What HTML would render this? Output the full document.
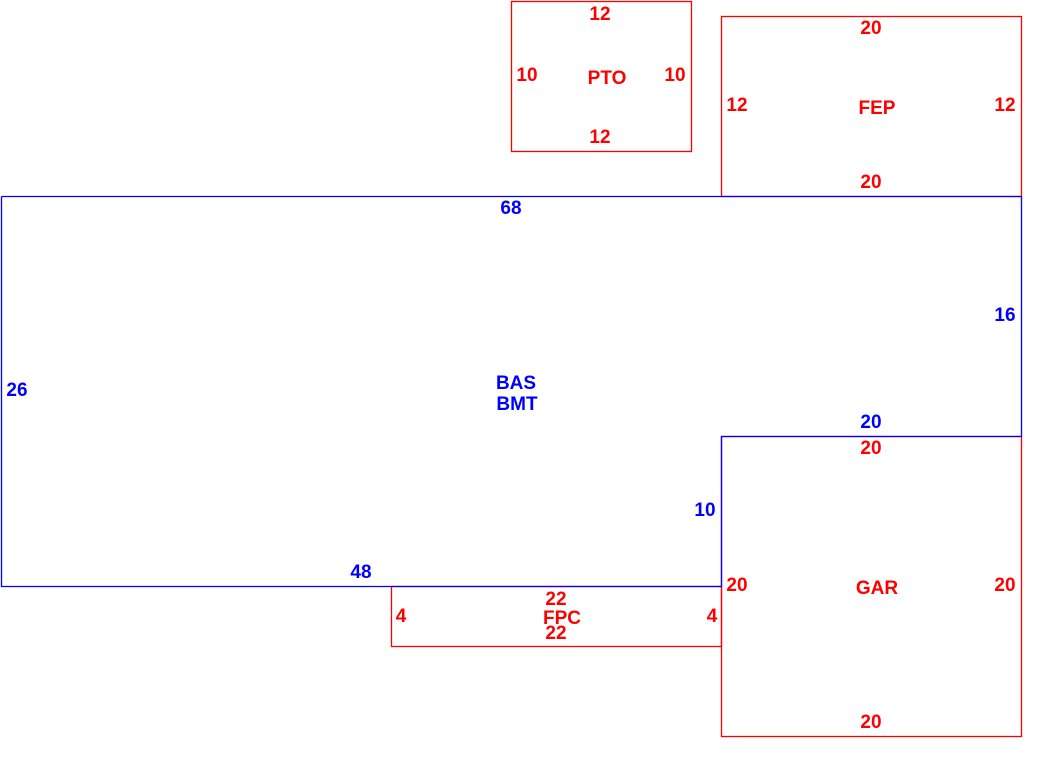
<!DOCTYPE html>
<html><head><style>body{margin:0;background:#fff}svg{display:block}text{font-family:"Liberation Sans",Arial,sans-serif;font-weight:bold;font-size:19px;text-anchor:middle}</style></head>
<body>
<svg width="1045" height="771" viewBox="0 0 1045 771">
<g fill="none" stroke-width="1.3">
<rect x="511.5" y="1.5" width="180" height="150" stroke="#f00"/>
<rect x="721.5" y="16.5" width="300" height="180" stroke="#f00"/>
<rect x="721.5" y="436.5" width="300" height="300" stroke="#f00"/>
<rect x="391.5" y="586.5" width="330" height="60" stroke="#f00"/>
<polyline points="1.5,196.5 1021.5,196.5 1021.5,436.5 721.5,436.5 721.5,586.5 1.5,586.5 1.5,196.5" stroke="#00f"/>
</g>
<g fill="#f00">
<text x="600" y="20">12</text><text x="527" y="81">10</text><text x="607" y="84">PTO</text><text x="675" y="81">10</text><text x="600" y="143">12</text>
<text x="871" y="34">20</text><text x="737" y="111">12</text><text x="877" y="114">FEP</text><text x="1005" y="111">12</text><text x="871" y="188">20</text>
<text x="871" y="454">20</text><text x="737" y="591">20</text><text x="877" y="594">GAR</text><text x="1005" y="591">20</text><text x="871" y="728">20</text>
<text x="556" y="605">22</text><text x="401" y="622">4</text><text x="562" y="624">FPC</text><text x="712" y="622">4</text><text x="556" y="639">22</text>
</g>
<g fill="#00f">
<text x="511" y="214">68</text><text x="17" y="396">26</text><text x="516" y="389">BAS</text><text x="517" y="410">BMT</text>
<text x="1005" y="321">16</text><text x="871" y="428">20</text><text x="705" y="516">10</text><text x="361" y="578">48</text>
</g>
</svg>
</body></html>
